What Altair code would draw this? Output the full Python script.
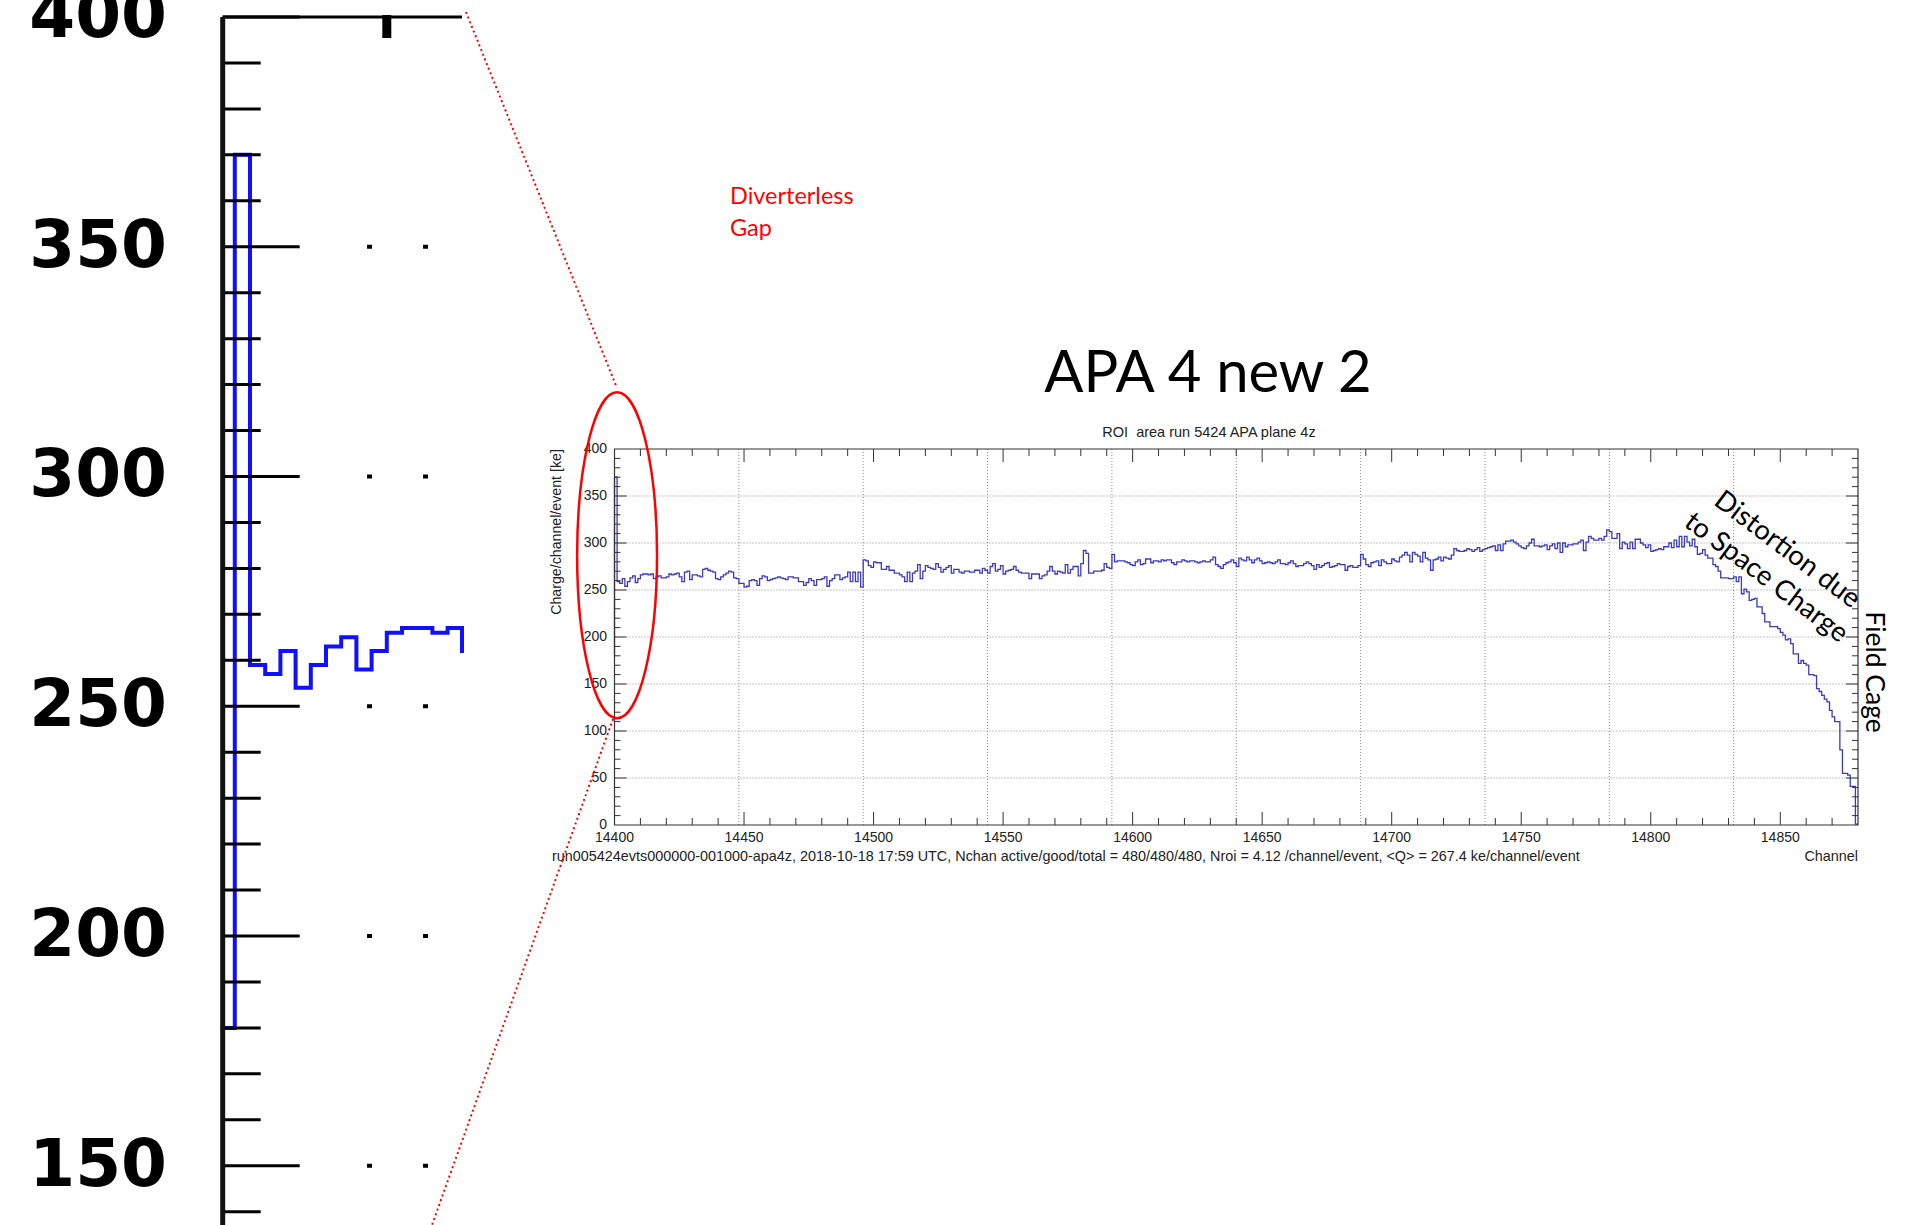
import altair as alt
import pandas as pd

# ---------------- data ----------------
FIRST_CHANNEL = 14399   # first bin drawn (partially visible left of the spike)
charge = [180,
    370, 259, 257, 262, 254, 259, 263, 265, 258, 262,
    266, 267, 267, 266, 267, 262, 264, 265, 263, 263,
    264, 267, 266, 267, 268, 264, 259, 269, 270, 261,
    266, 266, 265, 264, 272, 273, 271, 270, 269, 262,
    261, 264, 266, 268, 270, 269, 263, 262, 257, 257,
    253, 254, 260, 261, 260, 255, 262, 265, 264, 260,
    261, 262, 263, 264, 263, 262, 261, 264, 264, 263,
    263, 259, 259, 255, 258, 262, 260, 255, 261, 261,
    262, 264, 254, 260, 262, 266, 266, 261, 263, 264,
    269, 259, 269, 259, 269, 253, 282, 281, 276, 274,
    280, 279, 279, 272, 272, 275, 271, 271, 268, 268,
    266, 264, 259, 269, 259, 268, 270, 277, 262, 270,
    276, 274, 273, 272, 278, 274, 269, 272, 274, 276,
    268, 272, 272, 269, 268, 270, 270, 269, 269, 271,
    271, 268, 273, 271, 268, 275, 278, 270, 272, 276,
    267, 270, 271, 272, 275, 271, 269, 268, 268, 268,
    262, 267, 267, 267, 262, 265, 266, 270, 275, 270,
    267, 270, 269, 268, 277, 268, 272, 275, 275, 265,
    278, 292, 289, 268, 268, 270, 270, 270, 271, 278,
    274, 273, 288, 280, 281, 281, 281, 280, 279, 277,
    276, 280, 282, 277, 278, 283, 283, 279, 281, 281,
    280, 282, 281, 282, 282, 279, 277, 280, 280, 282,
    281, 280, 281, 281, 280, 279, 280, 281, 280, 280,
    282, 285, 277, 275, 273, 277, 279, 280, 282, 279,
    275, 284, 282, 281, 285, 282, 279, 282, 284, 281,
    278, 279, 280, 279, 278, 280, 282, 278, 278, 277,
    279, 281, 278, 275, 276, 276, 278, 280, 278, 276,
    272, 277, 274, 276, 278, 279, 274, 275, 276, 278,
    277, 277, 271, 275, 276, 274, 274, 276, 288, 283,
    277, 275, 279, 280, 281, 276, 282, 280, 278, 278,
    283, 281, 280, 285, 287, 290, 287, 280, 290, 288,
    286, 280, 290, 284, 282, 271, 282, 283, 285, 281,
    285, 284, 283, 287, 294, 292, 291, 291, 292, 294,
    293, 291, 293, 295, 291, 293, 294, 295, 296, 297,
    292, 298, 292, 299, 302, 302, 303, 301, 299, 297,
    295, 294, 297, 300, 304, 297, 297, 296, 297, 298,
    293, 297, 299, 294, 300, 290, 300, 296, 298, 298,
    299, 299, 301, 303, 292, 301, 307, 305, 303, 303,
    305, 303, 307, 314, 312, 305, 305, 310, 294, 301,
    299, 294, 301, 294, 304, 304, 300, 298, 295, 298,
    291, 292, 293, 294, 293, 296, 296, 300, 295, 303,
    296, 307, 296, 307, 301, 297, 304, 296, 288, 289,
    293, 287, 284, 284, 277, 275, 270, 263, 263, 263,
    262, 262, 264, 259, 264, 246, 251, 248, 239, 240,
    241, 232, 232, 225, 216, 216, 211, 211, 211, 209,
    205, 202, 197, 198, 193, 182, 182, 172, 175, 172,
    170, 160, 160, 159, 145, 142, 138, 134, 131, 122,
    115, 110, 110, 80, 55, 55, 53, 41, 41, 1,
]

x_tick_labels = [14400, 14450, 14500, 14550, 14600, 14650, 14700, 14750, 14800, 14850]
y_tick_labels = [0, 50, 100, 150, 200, 250, 300, 350, 400]
x_grid = [14448, 14496, 14544, 14592, 14640, 14688, 14736, 14784, 14832]
y_grid = [50, 100, 150, 200, 250, 300, 350]
x_major_ticks = [14450, 14500, 14550, 14600, 14650, 14700, 14750, 14800, 14850]
x_minor_ticks = [c for c in range(14410, 14880, 10) if c % 50]
y_major_ticks = [50, 100, 150, 200, 250, 300, 350]
y_minor_ticks = [v for v in range(10, 400, 10) if v % 50]

inset_labels = [150, 200, 250, 300, 350, 400]
inset_major_ticks = [150, 200, 250, 300, 350, 400]
inset_minor_ticks = [v for v in range(140, 400, 10) if v % 50]
inset_x_major = [14410]
inset_grid_y = [150, 200, 250, 300, 350]

# ---------------- geometry (pixel ranges of each panel) ----------------
W, H = 1908, 1225
MX_D, MX_R = [14400, 14880], [614.5, 1858]
MY_D, MY_R = [0, 400], [825, 449]
IX_D, IX_R = [14399.204, 14414.947], [222.7, 462]
IY_D, IY_R = [137.1, 403.7], [1225, 0]


def scale(d, r):
    return alt.Scale(domain=d, range=r, nice=False, zero=False, clamp=True)


def mX(f):
    return alt.X(f, type="quantitative", scale=scale(MX_D, MX_R), axis=None)


def mY(f):
    return alt.Y(f, type="quantitative", scale=scale(MY_D, MY_R), axis=None)


def iX(f):
    return alt.X(f, type="quantitative", scale=scale(IX_D, IX_R), axis=None)


def iY(f):
    return alt.Y(f, type="quantitative", scale=scale(IY_D, IY_R), axis=None)


hist = pd.DataFrame({
    "ch": [FIRST_CHANNEL + i for i in range(len(charge))] + [FIRST_CHANNEL + len(charge)],
    "q": charge + [charge[-1]],
})


def df(col, vals):
    return pd.DataFrame({col: vals})


layers = []

# ---- main panel: grid ----
GRID = dict(color="#8a8a8a", strokeWidth=1, strokeDash=[1, 2])
layers.append(alt.Chart(df("ch", x_grid)).mark_rule(**GRID).encode(
    x=mX("ch"), y=alt.value(MY_R[1]), y2=alt.value(MY_R[0])))
layers.append(alt.Chart(df("v", y_grid)).mark_rule(**GRID).encode(
    y=mY("v"), x=alt.value(MX_R[0]), x2=alt.value(MX_R[1])))

# ---- main panel: histogram ----
layers.append(alt.Chart(hist).mark_line(
    interpolate="step-after", color="#3a3abf", strokeWidth=1.3).encode(
    x=mX("ch"), y=mY("q")))

# ---- main panel: frame ----
frame = pd.DataFrame({"x0": [MX_D[0]], "x1": [MX_D[1]], "y0": [MY_D[0]], "y1": [MY_D[1]]})
layers.append(alt.Chart(frame).mark_rect(fillOpacity=0, stroke="#333333", strokeWidth=1.2).encode(
    x=mX("x0"), x2="x1", y=mY("y0"), y2="y1"))

# ---- main panel: ticks ----
TICK = dict(color="#333333", strokeWidth=1)
for vals, ln in ((x_major_ticks, 13), (x_minor_ticks, 7)):
    layers.append(alt.Chart(df("ch", vals)).mark_rule(**TICK).encode(
        x=mX("ch"), y=alt.value(MY_R[0]), y2=alt.value(MY_R[0] - ln)))
    layers.append(alt.Chart(df("ch", vals)).mark_rule(**TICK).encode(
        x=mX("ch"), y=alt.value(MY_R[1]), y2=alt.value(MY_R[1] + ln)))
for vals, ln in ((y_major_ticks, 12), (y_minor_ticks, 6)):
    layers.append(alt.Chart(df("v", vals)).mark_rule(**TICK).encode(
        y=mY("v"), x=alt.value(MX_R[0]), x2=alt.value(MX_R[0] + ln)))
    layers.append(alt.Chart(df("v", vals)).mark_rule(**TICK).encode(
        y=mY("v"), x=alt.value(MX_R[1]), x2=alt.value(MX_R[1] - ln)))

# ---- main panel: tick labels ----
LBL = dict(font="Liberation Sans", fontSize=14, color="#222222")
layers.append(alt.Chart(df("ch", x_tick_labels)).mark_text(
    align="center", baseline="alphabetic", **LBL).encode(
    x=mX("ch"), y=alt.value(842), text=alt.Text("ch:Q", format="d")))
layers.append(alt.Chart(df("v", y_tick_labels)).mark_text(
    align="right", baseline="middle", **LBL).encode(
    y=mY("v"), x=alt.value(607), text=alt.Text("v:Q", format="d")))

# ---- main panel: titles ----
def label(text, x, y, **kw):
    return alt.Chart(pd.DataFrame({"t": [text]})).mark_text(**kw).encode(
        x=alt.value(x), y=alt.value(y), text="t:N")

layers.append(label("ROI\u00a0 area run 5424 APA plane 4z", 1209, 437,
                    font="Liberation Sans", fontSize=14.5, color="#222222",
                    align="center", baseline="alphabetic"))
layers.append(label("Charge/channel/event [ke]", 557, 532,
                    font="Liberation Sans", fontSize=14.2, color="#222222",
                    align="center", baseline="middle", angle=270))
layers.append(label("run005424evts000000-001000-apa4z, 2018-10-18 17:59 UTC, "
                    "Nchan active/good/total = 480/480/480, Nroi = 4.12 /channel/event, "
                    "<Q> = 267.4 ke/channel/event", 552, 861,
                    font="Liberation Sans", fontSize=14.4, color="#222222",
                    align="left", baseline="alphabetic"))
layers.append(label("Channel", 1858, 861,
                    font="Liberation Sans", fontSize=14.4, color="#222222",
                    align="right", baseline="alphabetic"))

# ---- slide annotations ----
layers.append(label("APA 4 new 2", 1208, 392, font="Lato", fontSize=58,
                    color="#000000", align="center", baseline="alphabetic"))
layers.append(alt.Chart(pd.DataFrame({"t": ["Diverterless\nGap"]})).mark_text(
    font="Lato", fontSize=23.5, color="#ff0000", align="left", baseline="alphabetic",
    lineBreak="\n", lineHeight=32).encode(
    x=alt.value(730), y=alt.value(204), text="t:N"))
layers.append(alt.Chart(pd.DataFrame({"t": ["Distortion due\nto Space Charge"]})).mark_text(
    font="Lato", fontSize=27.5, color="#000000", align="center", baseline="middle",
    lineBreak="\n", lineHeight=35, angle=37).encode(
    x=alt.value(1787), y=alt.value(550), text="t:N"))
layers.append(label("Field Cage", 1874, 672, font="Lato", fontSize=26.5,
                    color="#000000", align="center", baseline="middle", angle=90))

# ---- inset (magnified first channels) ----
layers.append(alt.Chart(df("v", inset_grid_y)).mark_rule(
    color="#000000", strokeWidth=4, strokeDash=[5, 51]).encode(
    y=iY("v"), x=iX("a"), x2="b").transform_calculate(a="14408.7", b="14414.9"))
layers.append(alt.Chart(hist).transform_filter("datum.ch <= 14415").mark_line(
    interpolate="step-after", color="#1010ff", strokeWidth=4,
    strokeJoin="miter", strokeCap="square").encode(
    x=iX("ch"), y=iY("q")))
for vals, ln in ((inset_major_ticks, 77), (inset_minor_ticks, 38)):
    layers.append(alt.Chart(df("v", vals)).mark_rule(color="#000000", strokeWidth=3).encode(
        y=iY("v"), x=alt.value(IX_R[0]), x2=alt.value(IX_R[0] + ln)))
layers.append(alt.Chart(df("ch", inset_x_major)).mark_rule(color="#000000", strokeWidth=9).encode(
    x=iX("ch"), y=alt.value(15), y2=alt.value(38)))
inset_frame = pd.DataFrame({"x0": [IX_D[0]], "x1": [IX_D[1]], "top": [400], "bot": [IY_D[0]]})
layers.append(alt.Chart(inset_frame).mark_rule(color="#000000", strokeWidth=3).encode(
    x=iX("x0"), x2="x1", y=iY("top")))
layers.append(alt.Chart(inset_frame).mark_rule(color="#111111", strokeWidth=5).encode(
    x=iX("x0"), y=iY("top"), y2="bot"))
layers.append(alt.Chart(df("v", inset_labels)).mark_text(
    font="DejaVu Sans", fontWeight="bold", fontSize=66, color="#000000",
    align="right", baseline="middle").encode(
    y=iY("v"), x=alt.value(167), text=alt.Text("v:Q", format="d")))

# ---- red ellipse around the first channels ----
ELLIPSE = ("M0,-1C0.1355,-1,0.245,-0.5523,0.245,0C0.245,0.5523,0.1355,1,0,1"
           "C-0.1355,1,-0.245,0.5523,-0.245,0C-0.245,-0.5523,-0.1355,-1,0,-1Z")
ell = pd.DataFrame({"ch": [14401], "q": [287]})
layers.append(alt.Chart(ell).mark_point(
    shape=ELLIPSE, size=326 * 326, filled=False, color="#ff0000",
    strokeWidth=2.5, opacity=1).encode(x=mX("ch"), y=mY("q")))

# ---- dotted zoom connectors ----
CONN = dict(color="#ff0000", strokeWidth=2, strokeDash=[2, 3])
layers.append(alt.Chart(df("k", [0])).mark_rule(**CONN).encode(
    x=alt.value(466), y=alt.value(12), x2=alt.value(617), y2=alt.value(388)))
layers.append(alt.Chart(df("k", [0])).mark_rule(**CONN).encode(
    x=alt.value(613), y=alt.value(719), x2=alt.value(432), y2=alt.value(1225)))

chart = alt.layer(*layers).resolve_scale(x="independent", y="independent").properties(
    width=W, height=H, padding=0,
    autosize=alt.AutoSizeParams(type="none"),
    background="#ffffff",
).configure_view(stroke=None)

chart.save("out.html", embed_options={"renderer": "svg", "actions": False})
